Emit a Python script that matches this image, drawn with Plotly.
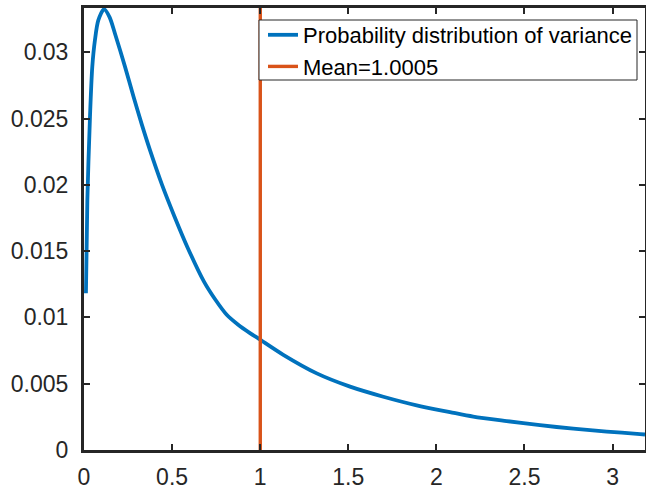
import plotly.graph_objects as go

# Empirical density of the variance estimate
var_x = [0.011, 0.019, 0.034, 0.047, 0.062, 0.081, 0.114, 0.145, 0.176, 0.233,
         0.280, 0.327, 0.375, 0.443, 0.514, 0.587, 0.681, 0.745, 0.810, 0.875,
         0.942, 0.993, 1.131, 1.321, 1.510, 1.699, 1.888, 2.077, 2.209, 2.399,
         2.588, 2.777, 2.967, 3.156, 3.184]
var_density = [0.01182, 0.01886, 0.02514, 0.02890, 0.03090, 0.03240, 0.03325, 0.03265,
               0.03140, 0.02890, 0.02670, 0.02460, 0.02260, 0.02000, 0.01760, 0.01530,
               0.01270, 0.01135, 0.01020, 0.00945, 0.00882, 0.00838, 0.00718, 0.00578,
               0.00478, 0.00402, 0.00337, 0.00286, 0.00252, 0.00218, 0.00187, 0.00161,
               0.00139, 0.00120, 0.00117]

mean_value = 1.0005
x_limits = [0, 3.184]
y_limits = [0, 0.03334]

x_ticks = [0, 0.5, 1, 1.5, 2, 2.5, 3]
x_tick_text = ["0", "0.5", "1", "1.5", "2", "2.5", "3"]
y_ticks = [0, 0.005, 0.01, 0.015, 0.02, 0.025, 0.03]
y_tick_text = ["0", "0.005", "0.01", "0.015", "0.02", "0.025", "0.03"]

blue = "#0072BD"
orange = "#D95319"
axis_color = "#262626"
font_family = "Liberation Sans, Arial, Helvetica, sans-serif"

fig = go.Figure()
fig.add_trace(go.Scatter(
    x=var_x, y=var_density, mode="lines",
    line=dict(color=blue, width=3.8, shape="spline", smoothing=0.8),
    name="Probability distribution of variance",
))
fig.add_trace(go.Scatter(
    x=[mean_value, mean_value], y=y_limits, mode="lines",
    line=dict(color=orange, width=3.4),
    name="Mean=1.0005",
))

axis_common = dict(
    showgrid=False, zeroline=False, automargin=False,
    showline=True, linecolor=axis_color, linewidth=3,
    mirror="allticks", ticks="inside", ticklen=6, tickwidth=2,
    tickcolor=axis_color,
    tickfont=dict(family=font_family, size=23, color=axis_color),
)

fig.update_xaxes(range=x_limits, tickvals=x_ticks, ticktext=x_tick_text,
                 ticklabelstandoff=4, **axis_common)
fig.update_yaxes(range=y_limits, tickvals=y_ticks, ticktext=y_tick_text,
                 ticklabelstandoff=8, **axis_common)

# Compact legend frame drawn behind the legend entries
plot_w, plot_h = 561, 442
fig.add_shape(
    type="rect", xref="paper", yref="paper", layer="above",
    x0=(259 - 84) / plot_w, x1=(637 - 84) / plot_w,
    y0=(450 - 80) / plot_h, y1=(450 - 20) / plot_h,
    fillcolor="white", line=dict(color=axis_color, width=1),
)

fig.update_layout(
    width=646, height=491,
    margin=dict(l=84, r=1, t=8, b=41),
    paper_bgcolor="white", plot_bgcolor="white",
    showlegend=True,
    legend=dict(
        x=0.9857, y=0.9864, xanchor="right", yanchor="top",
        bgcolor="rgba(255,255,255,0)", borderwidth=0,
        font=dict(family=font_family, size=22, color="black"),
        tracegroupgap=0, itemwidth=30,
    ),
)

fig.write_html("out.html")
